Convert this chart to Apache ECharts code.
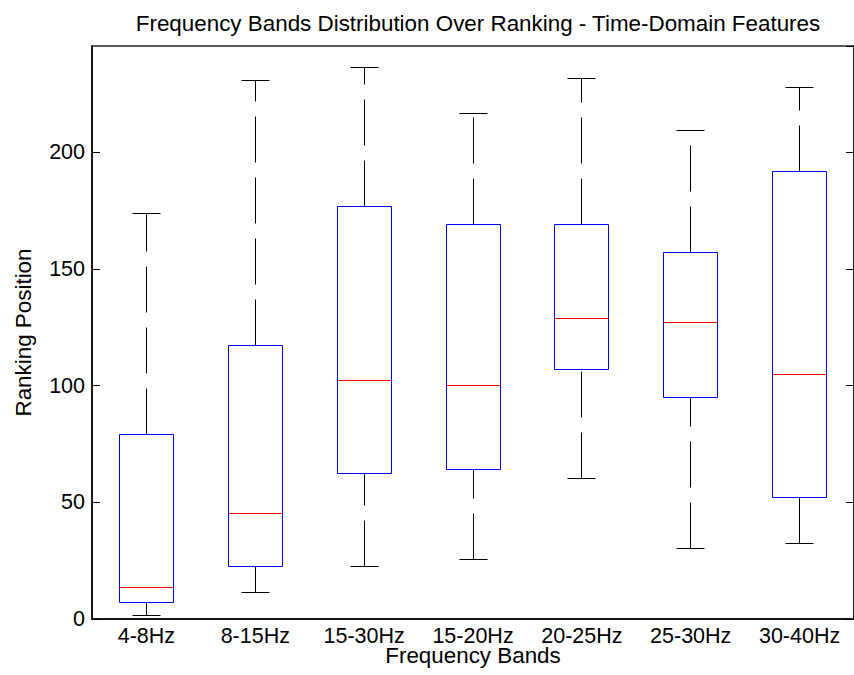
<!DOCTYPE html>
<html>
<head>
<meta charset="utf-8">
<script src="https://cdn.jsdelivr.net/npm/echarts@6/dist/echarts.min.js"></script>
<style>
html,body{margin:0;padding:0;background:#fff;overflow:hidden;}
#chart{width:854px;height:675px;}
</style>
</head>
<body>
<div id="chart"></div>
<script>
const categories = ['4-8Hz','8-15Hz','15-30Hz','15-20Hz','20-25Hz','25-30Hz','30-40Hz'];
const lowerWhisker = [1.6, 11.4, 22.6, 25.6, 60.3, 30.1, 32.4];
const q1Values     = [6.9, 22.7, 62.4, 64.0, 106.9, 94.9, 52.0];
const medianValues = [13.6, 45.3, 102.3, 100.2, 128.7, 127.2, 104.7];
const q3Values     = [79.2, 117.4, 176.9, 169.3, 169.3, 157.3, 191.9];
const upperWhisker = [174.0, 231.0, 236.2, 216.7, 231.7, 209.3, 227.9];
const yTicks = [0, 50, 100, 150, 200];

const FONT = '"Liberation Sans", Arial, sans-serif';
const boxData = categories.map((c, i) => [i, lowerWhisker[i], q1Values[i], medianValues[i], q3Values[i], upperWhisker[i]]);

function snap(v) { return Math.round(v - 0.5) + 0.5; }

function geom(api) {
  const idx = api.value(0);
  const bw = api.size([1, 0])[0];
  const cx = snap(api.coord([idx, api.value(2)])[0]);
  return {
    cx: cx,
    yLow: snap(api.coord([idx, api.value(1)])[1]),
    yQ1: snap(api.coord([idx, api.value(2)])[1]),
    yMed: snap(api.coord([idx, api.value(3)])[1]),
    yQ3: snap(api.coord([idx, api.value(4)])[1]),
    yHigh: snap(api.coord([idx, api.value(5)])[1]),
    bx0: snap(cx - bw * 0.25), bx1: snap(cx + bw * 0.25),
    cx0: snap(cx - bw * 0.125), cx1: snap(cx + bw * 0.125)
  };
}

function whiskerItem(params, api) {
  const g = geom(api);
  const dashed = () => ({ stroke: '#000000', fill: null, lineWidth: 1, lineDash: [46, 15] });
  const solid = () => ({ stroke: '#000000', fill: null, lineWidth: 1 });
  return {
    type: 'group',
    children: [
      { type: 'line', shape: { x1: g.cx, y1: g.yQ3, x2: g.cx, y2: g.yHigh }, style: dashed() },
      { type: 'line', shape: { x1: g.cx, y1: g.yLow, x2: g.cx, y2: g.yQ1 }, style: dashed() },
      { type: 'line', shape: { x1: g.cx0, y1: g.yHigh, x2: g.cx1, y2: g.yHigh }, style: solid() },
      { type: 'line', shape: { x1: g.cx0, y1: g.yLow, x2: g.cx1, y2: g.yLow }, style: solid() }
    ]
  };
}

function boxItem(params, api) {
  const g = geom(api);
  return {
    type: 'polygon',
    shape: { points: [[g.bx0, g.yQ3], [g.bx1, g.yQ3], [g.bx1, g.yQ1], [g.bx0, g.yQ1]] },
    style: { stroke: '#0000ff', fill: null, lineWidth: 1 }
  };
}

function medianItem(params, api) {
  const g = geom(api);
  return {
    type: 'line',
    shape: { x1: g.bx0, y1: g.yMed, x2: g.bx1, y2: g.yMed },
    style: { stroke: '#ff0000', fill: null, lineWidth: 1 }
  };
}

const chart = echarts.init(document.getElementById('chart'), null, { renderer: 'svg' });
const yMin = yTicks[0], yMax = 245.6, yInterval = yTicks[1] - yTicks[0];
chart.setOption({
  animation: false,
  backgroundColor: '#fff',
  title: {
    text: 'Frequency Bands Distribution Over Ranking - Time-Domain Features',
    left: 473, top: 7, textAlign: 'center',
    textStyle: { fontFamily: FONT, fontSize: 22.4, fontWeight: 'normal', color: '#000' }
  },
  grid: { left: 92, top: 46, width: 762, height: 573, show: true, borderColor: '#262626', borderWidth: 1.5, backgroundColor: 'transparent' },
  xAxis: {
    type: 'category', data: categories, boundaryGap: true,
    name: 'Frequency Bands', nameLocation: 'middle', nameGap: 29, nameMoveOverlap: false,
    nameTextStyle: { fontFamily: FONT, fontSize: 22.4, lineHeight: 15, color: '#000' },
    axisLine: { lineStyle: { color: '#000', width: 1.5 } },
    axisTick: { show: false },
    axisLabel: { fontFamily: FONT, fontSize: 21.5, lineHeight: 15, color: '#000', margin: 9 },
    splitLine: { show: false }
  },
  yAxis: [{
    type: 'value', min: yMin, max: yMax, interval: yInterval,
    name: 'Ranking Position', nameLocation: 'middle', nameGap: 58, nameMoveOverlap: false,
    nameTextStyle: { fontFamily: FONT, fontSize: 22.4, color: '#000' },
    axisLine: { show: true, lineStyle: { color: '#000', width: 1.5 } },
    axisTick: { show: true, inside: true, length: 8, lineStyle: { color: '#000' } },
    axisLabel: { fontFamily: FONT, fontSize: 21.5, color: '#000', margin: 7, showMaxLabel: false },
    splitLine: { show: false }
  }, {
    type: 'value', position: 'right', min: yMin, max: yMax, interval: yInterval,
    axisLine: { show: true, lineStyle: { color: '#000', width: 1.5 } },
    axisTick: { show: true, inside: true, length: 8, lineStyle: { color: '#000' } },
    axisLabel: { show: false },
    splitLine: { show: false }
  }],
  series: [
    { type: 'custom', name: 'whiskers', renderItem: whiskerItem, encode: { x: 0, y: [1, 2, 3, 4, 5] }, data: boxData, clip: false, z: 2, silent: true },
    { type: 'custom', name: 'boxes', renderItem: boxItem, encode: { x: 0, y: [1, 2, 3, 4, 5] }, data: boxData, clip: false, z: 3, silent: true },
    { type: 'custom', name: 'medians', renderItem: medianItem, encode: { x: 0, y: [1, 2, 3, 4, 5] }, data: boxData, clip: false, z: 4, silent: true }
  ]
});
</script>
</body>
</html>
